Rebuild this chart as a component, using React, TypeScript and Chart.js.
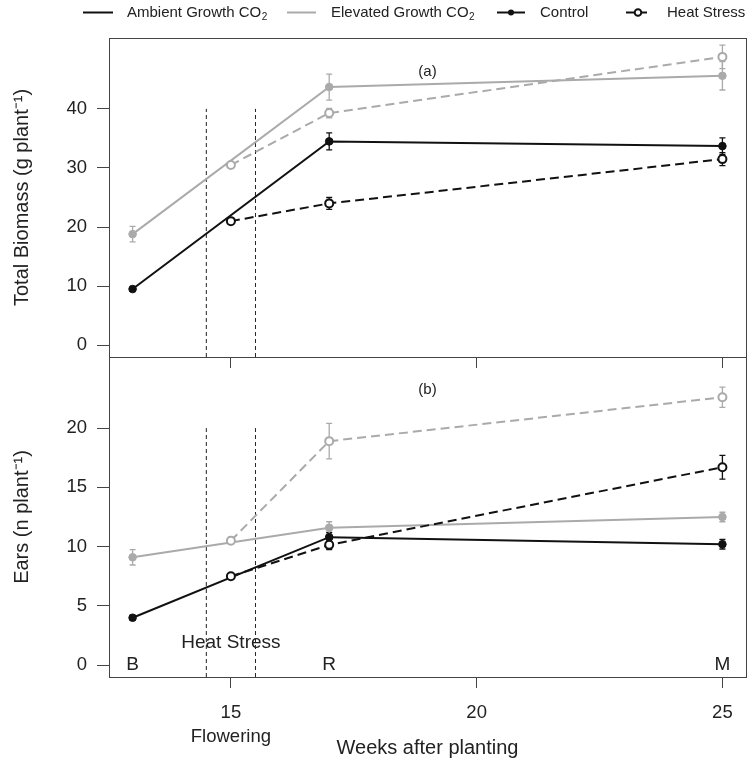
import React, { useEffect, useRef } from 'react';
import { Chart, registerables } from 'chart.js';

Chart.register(...registerables);

// ---------- data ----------
const controlWeeks = [13, 17, 25];
const heatWeeks = [15, 17, 25];

const biomassAmbientControl = [9.5, 34.5, 33.7];
const biomassAmbientControlErr = [0.3, 1.45, 1.4];
const biomassAmbientHeat = [21.0, 24.0, 31.5];
const biomassAmbientHeatErr = [0.5, 1.0, 1.1];
const biomassElevatedControl = [18.8, 43.7, 45.6];
const biomassElevatedControlErr = [1.3, 2.2, 2.4];
const biomassElevatedHeat = [30.5, 39.3, 48.8];
const biomassElevatedHeatErr = [0.5, 0.8, 2.0];

const earsAmbientControl = [4.0, 10.8, 10.2];
const earsAmbientControlErr = [0.2, 0.4, 0.4];
const earsAmbientHeat = [7.5, 10.15, 16.7];
const earsAmbientHeatErr = [0.2, 0.4, 1.0];
const earsElevatedControl = [9.1, 11.6, 12.5];
const earsElevatedControlErr = [0.65, 0.5, 0.4];
const earsElevatedHeat = [10.5, 18.9, 22.6];
const earsElevatedHeatErr = [0.3, 1.5, 0.85];

const xTicks = [15, 20, 25];
const xTickLabels = ['15', '20', '25'];
const xTickSubLabels = ['Flowering', '', ''];
const biomassTicks = [0, 10, 20, 30, 40];
const earsTicks = [0, 5, 10, 15, 20];

const stageWeeks = [13, 17, 25];
const stageLabels = ['B', 'R', 'M'];
const heatWindow = [14.5, 15.5];
const heatWindowTopBiomass = 40;
const heatWindowTopEars = 20;

const xRange = [12.52, 25.48];
const biomassRange = [-2, 52];
const earsRange = [-1, 26];

// ---------- styles ----------
const FONT = "'Liberation Sans', Arial, Helvetica, sans-serif";
const BLACK = '#111111';
const GRAY = '#aaaaaa';
const AXIS = '#444444';
const TEXT = '#222222';

Chart.defaults.font.family = FONT;

function pts(xs: number[], ys: number[]) {
  return xs.map((x, i) => ({ x, y: ys[i] }));
}

function series(label: string, xs: number[], ys: number[], err: number[], color: string, dashed: boolean, open: boolean) {
  return {
    label,
    data: pts(xs, ys),
    err,
    borderColor: color,
    backgroundColor: color,
    borderWidth: 2,
    borderDash: dashed ? [9, 5] : [],
    pointRadius: open ? 4 : 3.8,
    pointBorderWidth: open ? 2 : 1,
    pointBackgroundColor: open ? '#ffffff' : color,
    pointBorderColor: color,
    pointHoverRadius: open ? 4 : 3.8,
    tension: 0,
    fill: false,
  };
}

function windowLine(x: number, y0: number, y1: number) {
  return {
    label: 'window',
    data: [{ x, y: y0 }, { x, y: y1 }],
    borderColor: '#222222',
    borderWidth: 1,
    borderDash: [4, 3],
    pointRadius: 0,
    pointHoverRadius: 0,
    fill: false,
  };
}

const errorBars = {
  id: 'errorBars',
  beforeDatasetsDraw(chart: any) {
    const { ctx } = chart;
    const xs = chart.scales.x;
    const ys = chart.scales.y;
    chart.data.datasets.forEach((ds: any) => {
      if (!ds.err) return;
      ctx.save();
      ctx.strokeStyle = ds.borderColor;
      ctx.lineWidth = 1.3;
      ctx.setLineDash([]);
      ds.data.forEach((p: any, i: number) => {
        const e = ds.err[i];
        if (!e) return;
        const px = xs.getPixelForValue(p.x);
        const y1 = ys.getPixelForValue(p.y - e);
        const y2 = ys.getPixelForValue(p.y + e);
        ctx.beginPath();
        ctx.moveTo(px, y1);
        ctx.lineTo(px, y2);
        ctx.moveTo(px - 3, y1);
        ctx.lineTo(px + 3, y1);
        ctx.moveTo(px - 3, y2);
        ctx.lineTo(px + 3, y2);
        ctx.stroke();
      });
      ctx.restore();
    });
  },
};

const frame = {
  id: 'frame',
  afterDraw(chart: any) {
    const { ctx, chartArea: a } = chart;
    ctx.save();
    ctx.strokeStyle = AXIS;
    ctx.lineWidth = 1;
    ctx.strokeRect(Math.round(a.left) + 0.5, Math.round(a.top) + 0.5, Math.round(a.right - a.left), Math.round(a.bottom - a.top));
    ctx.restore();
  },
};

function drawSubText(ctx: any, main: string, sub: string, x: number, y: number) {
  ctx.font = `15px ${FONT}`;
  ctx.fillText(main, x, y);
  const w = ctx.measureText(main).width;
  ctx.font = `10px ${FONT}`;
  ctx.fillText(sub, x + w + 0.5, y + 5);
  ctx.font = `15px ${FONT}`;
}

const legendPlugin = {
  id: 'customLegend',
  afterDraw(chart: any) {
    const ctx = chart.ctx;
    const y = 12.5;
    ctx.save();
    ctx.textBaseline = 'middle';
    ctx.textAlign = 'left';
    ctx.fillStyle = TEXT;
    ctx.lineWidth = 2;
    // Ambient
    ctx.strokeStyle = BLACK;
    ctx.beginPath(); ctx.moveTo(83, y); ctx.lineTo(113, y); ctx.stroke();
    drawSubText(ctx, 'Ambient Growth CO', '2', 127, y);
    // Elevated
    ctx.strokeStyle = GRAY;
    ctx.beginPath(); ctx.moveTo(287, y); ctx.lineTo(316, y); ctx.stroke();
    drawSubText(ctx, 'Elevated Growth CO', '2', 331, y);
    // Control
    ctx.strokeStyle = BLACK;
    ctx.fillStyle = BLACK;
    ctx.beginPath(); ctx.moveTo(497, y); ctx.lineTo(525, y); ctx.stroke();
    ctx.beginPath(); ctx.arc(511, y, 3, 0, Math.PI * 2); ctx.fill();
    ctx.fillStyle = TEXT;
    ctx.font = `15px ${FONT}`;
    ctx.fillText('Control', 540, y);
    // Heat stress
    ctx.beginPath(); ctx.moveTo(626, y); ctx.lineTo(647, y); ctx.stroke();
    ctx.fillStyle = '#ffffff';
    ctx.beginPath(); ctx.arc(638, y, 3.3, 0, Math.PI * 2); ctx.fill(); ctx.stroke();
    ctx.fillStyle = TEXT;
    ctx.fillText('Heat Stress', 667, y);
    ctx.restore();
  },
};

function annotations(texts: { x: number; y: number; text: string; size: number }[]) {
  return {
    id: 'annotations',
    afterDatasetsDraw(chart: any) {
      const { ctx } = chart;
      const xs = chart.scales.x;
      const ys = chart.scales.y;
      ctx.save();
      ctx.fillStyle = TEXT;
      ctx.textAlign = 'center';
      ctx.textBaseline = 'middle';
      texts.forEach((t) => {
        ctx.font = `${t.size}px ${FONT}`;
        ctx.fillText(t.text, xs.getPixelForValue(t.x), ys.getPixelForValue(t.y));
      });
      ctx.restore();
    },
  };
}

function zeroPad(s: any) {
  s.paddingLeft = 0;
  s.paddingRight = 0;
  s.paddingTop = 0;
  s.paddingBottom = 0;
}

function makeConfig(opts: {
  datasets: any[];
  yRange: number[];
  yTicks: number[];
  yTitle: string;
  padTop: number;
  xHeight: number;
  showX: boolean;
  plugins: any[];
}) {
  return {
    type: 'line' as const,
    data: { datasets: opts.datasets },
    plugins: opts.plugins,
    options: {
      animation: false as const,
      responsive: false,
      maintainAspectRatio: false,
      events: [],
      layout: { padding: { top: opts.padTop, left: 0, right: 6, bottom: 0 } },
      plugins: { legend: { display: false }, tooltip: { enabled: false }, title: { display: false } },
      scales: {
        x: {
          type: 'linear' as const,
          min: xRange[0],
          max: xRange[1],
          afterBuildTicks: (s: any) => {
            s.ticks = xTicks.map((v) => ({ value: v }));
          },
          grid: { drawOnChartArea: false, drawTicks: true, tickLength: 11, color: AXIS, lineWidth: 1 },
          border: { display: false },
          ticks: {
            display: opts.showX,
            autoSkip: false,
            maxRotation: 0,
            padding: 13,
            color: TEXT,
            font: { size: 18.5, lineHeight: 24 / 18.5 },
            callback: (v: any) => {
              const i = xTicks.indexOf(Number(v));
              if (i < 0) return '';
              return xTickSubLabels[i] ? [xTickLabels[i], xTickSubLabels[i]] : xTickLabels[i];
            },
          },
          title: { display: opts.showX, text: 'Weeks after planting', color: TEXT, font: { size: 20 }, padding: 0 },
          afterFit: (s: any) => {
            s.height = opts.xHeight;
            zeroPad(s);
          },
        },
        y: {
          type: 'linear' as const,
          min: opts.yRange[0],
          max: opts.yRange[1],
          afterBuildTicks: (s: any) => {
            s.ticks = opts.yTicks.map((v) => ({ value: v }));
          },
          grid: { drawOnChartArea: false, drawTicks: true, tickLength: 12, color: AXIS, lineWidth: 1 },
          border: { display: false },
          ticks: { padding: 10, color: TEXT, font: { size: 18.5 }, autoSkip: false },
          title: { display: true, text: opts.yTitle, color: TEXT, font: { size: 20 }, padding: { top: 10, bottom: 0 } },
          afterFit: (s: any) => {
            s.width = 109;
            zeroPad(s);
          },
        },
      },
    },
  };
}

export default function App() {
  const topRef = useRef<HTMLCanvasElement>(null);
  const botRef = useRef<HTMLCanvasElement>(null);

  useEffect(() => {
    const topCfg = makeConfig({
      datasets: [
        series('Ambient Heat Stress', heatWeeks, biomassAmbientHeat, biomassAmbientHeatErr, BLACK, true, true),
        series('Ambient Control', controlWeeks, biomassAmbientControl, biomassAmbientControlErr, BLACK, false, false),
        series('Elevated Heat Stress', heatWeeks, biomassElevatedHeat, biomassElevatedHeatErr, GRAY, true, true),
        series('Elevated Control', controlWeeks, biomassElevatedControl, biomassElevatedControlErr, GRAY, false, false),
        windowLine(heatWindow[0], biomassRange[0], heatWindowTopBiomass),
        windowLine(heatWindow[1], biomassRange[0], heatWindowTopBiomass),
      ],
      yRange: biomassRange,
      yTicks: biomassTicks,
      yTitle: 'Total Biomass (g plant⁻¹)',
      padTop: 38,
      xHeight: 23,
      showX: false,
      plugins: [errorBars, frame, legendPlugin, annotations([{ x: 19, y: 46.3, text: '(a)', size: 15 }])],
    });
    const botCfg = makeConfig({
      datasets: [
        series('Ambient Heat Stress', heatWeeks, earsAmbientHeat, earsAmbientHeatErr, BLACK, true, true),
        series('Ambient Control', controlWeeks, earsAmbientControl, earsAmbientControlErr, BLACK, false, false),
        series('Elevated Heat Stress', heatWeeks, earsElevatedHeat, earsElevatedHeatErr, GRAY, true, true),
        series('Elevated Control', controlWeeks, earsElevatedControl, earsElevatedControlErr, GRAY, false, false),
        windowLine(heatWindow[0], earsRange[0], heatWindowTopEars),
        windowLine(heatWindow[1], earsRange[0], heatWindowTopEars),
      ],
      yRange: earsRange,
      yTicks: earsTicks,
      yTitle: 'Ears (n plant⁻¹)',
      padTop: 17,
      xHeight: 83,
      showX: true,
      plugins: [
        errorBars,
        frame,
        annotations([
          { x: 19, y: 23.2, text: '(b)', size: 15 },
          { x: 15, y: 1.9, text: 'Heat Stress', size: 19 },
          ...stageWeeks.map((w, i) => ({ x: w, y: 0, text: stageLabels[i], size: 19 })),
        ]),
      ],
    });
    const top = new Chart(topRef.current as HTMLCanvasElement, topCfg as any);
    const bot = new Chart(botRef.current as HTMLCanvasElement, botCfg as any);
    return () => {
      top.destroy();
      bot.destroy();
    };
  }, []);

  return (
    <div style={{ position: 'fixed', left: 0, top: 0, width: 752, height: 760, background: '#ffffff' }}>
      <canvas ref={topRef} width={752} height={380} style={{ position: 'absolute', left: 0, top: 0, width: 752, height: 380 }} />
      <canvas ref={botRef} width={752} height={420} style={{ position: 'absolute', left: 0, top: 340, width: 752, height: 420 }} />
    </div>
  );
}
